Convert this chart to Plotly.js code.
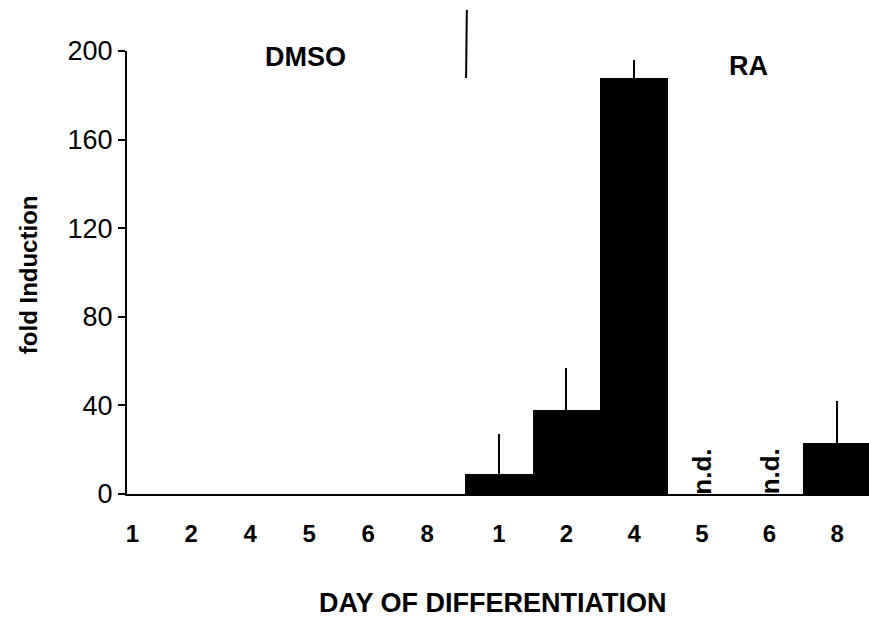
<!DOCTYPE html>
<html>
<head>
<meta charset="utf-8">
<script src="https://cdn.plot.ly/plotly-3.0.1.min.js"></script>
<style>html,body{margin:0;padding:0;background:#fff;}#chart{width:869px;height:629px;}</style>
</head>
<body>
<div id="chart"></div>
<script>
// Data
const days = ["1", "2", "4", "5", "6", "8"];
const dmsoValues = [0, 0, 0, 0, 0, 0];
const raValues = [9, 38, 188, null, null, 23];
const raErrors = [18, 19, 8, null, null, 19];
const notDetected = ["5", "6"];
const yTicks = [0, 40, 80, 120, 160, 200];

const FONT = "Liberation Sans, Arial, Helvetica, sans-serif";

const traces = [
  {
    type: "bar", x: days, y: dmsoValues, xaxis: "x", yaxis: "y",
    marker: {color: "#000", line: {width: 0}}, hoverinfo: "skip", showlegend: false
  },
  {
    type: "bar", x: days, y: raValues, xaxis: "x2", yaxis: "y",
    marker: {color: "#000", line: {width: 0}},
    error_y: {type: "data", array: raErrors, arrayminus: raErrors.map(() => 0),
              symmetric: false, color: "#000", thickness: 2, width: 0},
    hoverinfo: "skip", showlegend: false
  }
];

const xCommon = {
  type: "category", showgrid: false, zeroline: false,
  showline: true, linecolor: "#000", linewidth: 2,
  ticks: "", ticklabelstandoff: 17,
  tickfont: {family: FONT, size: 24, color: "#000", weight: "bold"},
  fixedrange: true
};

const split = 0.4555;
const annotations = [
  {text: "DMSO", xref: "paper", yref: "paper", x: 0.241, y: 0.986, showarrow: false,
   font: {family: FONT, size: 27, color: "#000", weight: "bold"}, xanchor: "center", yanchor: "middle"},
  {text: "RA", xref: "paper", yref: "paper", x: 0.837, y: 0.966, showarrow: false,
   font: {family: FONT, size: 27, color: "#000", weight: "bold"}, xanchor: "center", yanchor: "middle"},
  {text: "DAY OF DIFFERENTIATION", xref: "paper", yref: "paper", x: 0.493, y: -0.246, showarrow: false,
   font: {family: FONT, size: 27, color: "#000", weight: "bold"}, xanchor: "center", yanchor: "middle"},
  {text: "fold Induction", xref: "paper", yref: "paper", x: -0.1334, y: 0.494, showarrow: false,
   textangle: -90, font: {family: FONT, size: 24, color: "#000", weight: "bold"}, xanchor: "center", yanchor: "middle"}
];
notDetected.forEach(d => annotations.push({
  text: "<b>n.d.</b>", xref: "x2", yref: "y", x: days.indexOf(d), y: 10, showarrow: false, textangle: -90,
  font: {family: FONT, size: 26, color: "#000"}, xanchor: "center", yanchor: "middle"
}));

const layout = {
  width: 869, height: 629,
  margin: {l: 127, r: 0, t: 51, b: 135, pad: 0},
  paper_bgcolor: "#fff", plot_bgcolor: "#fff",
  bargap: 0, showlegend: false,
  xaxis: Object.assign({}, xCommon, {domain: [0, split], range: [-0.09, 5.64], anchor: "y"}),
  xaxis2: Object.assign({}, xCommon, {domain: [split, 1], range: [-0.5, 5.47], anchor: "y"}),
  yaxis: {
    range: [0, 200], tickvals: yTicks, ticks: "outside", ticklen: 7, tickwidth: 2, tickcolor: "#000",
    showline: true, linecolor: "#000", linewidth: 2, showgrid: false, zeroline: false,
    tickfont: {family: FONT, size: 27, color: "#000"}, anchor: "x", fixedrange: true
  },
  annotations: annotations,
  shapes: [
    {type: "line", xref: "paper", yref: "paper", x0: 0.458, x1: 0.457, y0: 1.0926, y1: 0.939,
     line: {color: "#000", width: 2}}
  ]
};

Plotly.newPlot("chart", traces, layout, {displayModeBar: false, staticPlot: true});
</script>
</body>
</html>
